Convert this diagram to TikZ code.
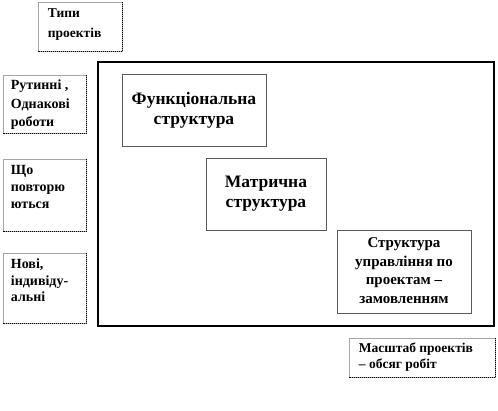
\documentclass[tikz,border=0pt]{standalone}
\usepackage{fontspec}
\setmainfont{Liberation Serif}
\begin{document}
\begin{tikzpicture}[x=1pt,y=-1pt,
  frame/.style={draw=gray!70, line width=0.6pt, inner sep=0pt},
  dotedge/.style={line width=1pt, densely dotted, black},
  smalltext/.style={anchor=north west, align=left, inner sep=0pt, font=\fontsize{14}{17.5}\selectfont\bfseries},
  bigtext/.style={align=center, inner sep=0pt, font=\fontsize{17.5}{20}\selectfont\bfseries},
  midtext/.style={align=center, inner sep=0pt, font=\fontsize{15}{18.5}\selectfont\bfseries},
  inbox/.style={draw=black!65, line width=0.7pt, inner sep=0pt},
  main/.style={draw=black, line width=2pt, inner sep=0pt}]
\useasboundingbox (0,0) rectangle (498,410);
% outer frame
\node[main, minimum width=396pt, minimum height=264pt] (big) at (296,194) {};
% left labels
\node[frame, minimum width=84pt, minimum height=49pt] (tipy) at (80,26.5) {};
\draw[dotedge] (tipy.north east) -- (tipy.south east) -- (tipy.south west);
\node[smalltext, font=\fontsize{13.5}{20}\selectfont\bfseries] (ttipy) at ([shift={(10,7)}]tipy.north west) {Типи\\проектів};

\node[frame, minimum width=83pt, minimum height=58pt] (rut) at (44.5,104) {};
\draw[dotedge] (rut.north east) -- (rut.south east) -- (rut.south west);
\node[smalltext, font=\fontsize{14}{18.5}\selectfont\bfseries] (trut) at ([shift={(8,5)}]rut.north west) {Рутинні ,\\Однакові\\роботи};

\node[frame, minimum width=83pt, minimum height=72pt] (shcho) at (44.5,195) {};
\draw[dotedge] (shcho.north east) -- (shcho.south east) -- (shcho.south west);
\node[smalltext, font=\fontsize{14}{17}\selectfont\bfseries] (tshcho) at ([shift={(8,6)}]shcho.north west) {Що\\повторю\\ються};

\node[frame, minimum width=83pt, minimum height=70pt] (novi) at (44.5,288) {};
\draw[dotedge] (novi.north east) -- (novi.south east) -- (novi.south west);
\node[smalltext, font=\fontsize{14}{16.5}\selectfont\bfseries] (tnovi) at ([shift={(8,6)}]novi.north west) {Нові,\\індивіду-\\альні};

% inner structures
\node[inbox, minimum width=144pt, minimum height=72pt] (func) at (194,110) {};
\node[bigtext] (tfunc) at (func.center) {Функціональна\\структура};
\node[inbox, minimum width=120pt, minimum height=72pt] (matr) at (266,194) {};
\node[bigtext] (tmatr) at (matr.center) {Матрична\\структура};
\node[inbox, minimum width=134pt, minimum height=83pt] (proj) at (404,271.5) {};
\node[midtext] (tproj) at ([yshift=1]proj.center) {Структура\\управління по\\проектам –\\замовленням};

% scale label
\node[frame, minimum width=146pt, minimum height=39pt] (scale) at (422,357.5) {};
\draw[dotedge] (scale.north east) -- (scale.south east) -- (scale.south west);
\node[smalltext, font=\fontsize{13.5}{16}\selectfont\bfseries] (tscale) at ([shift={(10,5)}]scale.north west) {Масштаб проектів\\– обсяг робіт};
\end{tikzpicture}
\end{document}
